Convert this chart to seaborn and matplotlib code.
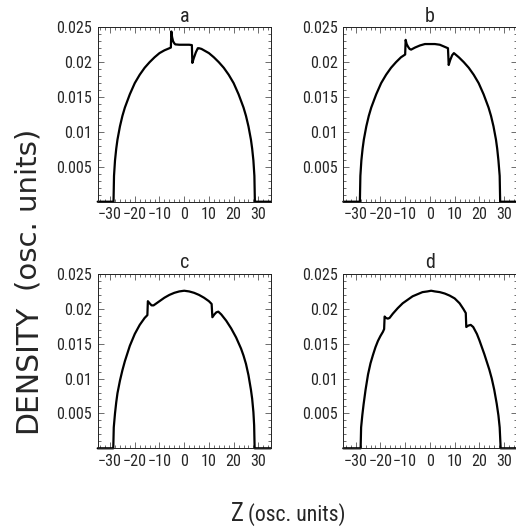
import numpy as np
import pandas as pd
import matplotlib
matplotlib.use("Agg")
import matplotlib.pyplot as plt
import seaborn as sns
from matplotlib import font_manager
from matplotlib.font_manager import FontProperties
from matplotlib.ticker import MultipleLocator, FixedLocator

# Density profiles along the trap axis (osc. units) for four cases a-d
z_a = [-35, -28.6, -28.4, -28.0, -27.5, -27.0, -26.0, -25.0, -24.0, -22.0,
       -20.0, -18.0, -16.0, -14.0, -12.0, -10.0, -8.0, -6.0,
       -5.4, -5.2, -4.9, -4.5, -4.0, -3.6,
       -2.0, 0.0, 2.0, 3.1,
       3.3, 3.9, 4.7, 5.5,
       6.0, 7.0, 8.0, 10.0, 12.0, 14.0, 16.0, 18.0, 20.0, 22.0, 24.0, 25.0,
       26.0, 27.0, 27.5, 28.0, 28.4, 28.6, 35]
n_a = [0, 0, 0.0037, 0.0059, 0.0076, 0.0089, 0.0108, 0.0123, 0.0135, 0.0154,
       0.0170, 0.0182, 0.0192, 0.0200, 0.0207, 0.0213, 0.0217, 0.0220,
       0.0221, 0.0244, 0.0236, 0.0230, 0.0227, 0.02255,
       0.0225, 0.0225, 0.0225, 0.02245,
       0.0199, 0.0206, 0.0214, 0.0220,
       0.0220, 0.0219, 0.0217, 0.0213, 0.0207, 0.0200, 0.0192, 0.0182, 0.0170,
       0.0154, 0.0135, 0.0123, 0.0108, 0.0089, 0.0076, 0.0059, 0.0037, 0, 0]

z_b = [-35, -28.3, -28.1, -27.7, -27.2, -26.7, -25.7, -24.7, -23.7, -21.7,
       -19.7, -17.7, -15.7, -13.7, -11.7, -10.0,
       -9.8, -9.4, -8.8, -8.2, -7.6,
       -6.0, -4.0, -2.0, 0.0, 2.0, 4.0, 6.0,
       7.3, 7.6, 8.2, 9.0, 9.7,
       11.7, 13.7, 15.7, 17.7, 19.7, 21.7, 23.7, 24.7, 25.7, 26.7, 27.2, 27.7,
       28.2, 28.4, 35]
n_b = [0, 0, 0.0037, 0.0059, 0.0076, 0.0089, 0.0108, 0.0123, 0.0135, 0.0154,
       0.0170, 0.0182, 0.0192, 0.0200, 0.0207, 0.0211,
       0.0232, 0.0226, 0.0222, 0.0219, 0.0218,
       0.0221, 0.0224, 0.0226, 0.0226, 0.0226, 0.0225, 0.0222,
       0.0220, 0.0196, 0.0203, 0.0210, 0.0213,
       0.0207, 0.0200, 0.0192, 0.0182, 0.0170, 0.0154, 0.0135, 0.0123, 0.0108,
       0.0089, 0.0076, 0.0059, 0.0037, 0, 0]

z_c = [-35, -28.7, -28.5, -28.0, -27.5, -27.0, -26.0, -25.0, -24.0, -22.0,
       -20.0, -18.0, -16.0, -14.9, -14.7, -14.0, -13.2, -12.4,
       -10.0, -8.0, -6.0, -4.0, -2.0, 0.0, 2.0, 4.0, 6.0, 8.0, 10.0,
       11.1, 11.4, 12.2, 13.0, 13.8,
       15.0, 17.0, 19.0, 21.0, 23.0, 24.0, 25.0, 26.0, 27.0, 27.5, 28.0, 28.3,
       28.5, 35]
n_c = [0, 0, 0.0030, 0.0050, 0.0066, 0.0079, 0.0097, 0.0112, 0.0125, 0.0147,
       0.0164, 0.0177, 0.0187, 0.0191, 0.0211, 0.0208, 0.0205, 0.0205,
       0.0211, 0.0216, 0.0220, 0.0223, 0.0225, 0.0226, 0.0225, 0.0223, 0.0220,
       0.0216, 0.0211,
       0.0207, 0.0188, 0.0192, 0.0195, 0.0196,
       0.0192, 0.0183, 0.0172, 0.0159, 0.0143, 0.0133, 0.0121, 0.0105, 0.0084,
       0.0071, 0.0052, 0.0033, 0, 0]

z_d = [-35, -28.0, -27.8, -27.3, -26.8, -26.0, -25.0, -24.0, -23.0, -22.0,
       -21.0, -20.0, -19.0, -18.5, -18.3, -17.8, -17.0, -16.3,
       -15.0, -13.0, -11.0, -9.0, -7.0, -5.0, -3.0, -1.0, 0.5,
       2.0, 4.0, 6.0, 8.0, 10.0, 12.0, 13.5, 14.5,
       14.7, 15.5, 16.5, 17.5, 19.0, 20.0, 21.0, 22.0, 23.0, 24.0, 25.0, 26.0,
       27.0, 27.7, 28.2, 28.6, 35]
n_d = [0, 0, 0.0030, 0.0048, 0.0063, 0.0084, 0.0106, 0.0122, 0.0134, 0.0145,
       0.0154, 0.0161, 0.0167, 0.0171, 0.0189, 0.0187, 0.0186, 0.0187,
       0.0193, 0.0201, 0.0208, 0.0213, 0.0218, 0.0221, 0.0224, 0.0225, 0.0226,
       0.0225, 0.0224, 0.0222, 0.0219, 0.0215, 0.0208, 0.0200, 0.0194,
       0.0174, 0.0176, 0.0177, 0.0174, 0.0164, 0.0155, 0.0145, 0.0135, 0.0124,
       0.0113, 0.0100, 0.0084, 0.0064, 0.0047, 0.0030, 0, 0]

panel_labels = ["a", "b", "c", "d"]
x_ticks = [-30, -20, -10, 0, 10, 20, 30]
x_ticklabels = ["\u221230", "\u221220", "\u221210", "0", "10", "20", "30"]
y_ticks = [0.005, 0.01, 0.015, 0.02, 0.025]
y_ticklabels = ["0.005", "0.01", "0.015", "0.02", "0.025"]

sns.set_theme(style="white")
plt.rcParams["font.family"] = ["Liberation Sans", "DejaVu Sans"]


def narrow_font():
    """Return a regular-weight condensed sans font file if one is installed."""
    order = ["liberation sans narrow", "roboto condensed", "noto sans",
             "open sans", "dejavu sans", "lato", "inter"]
    found = []
    for f in font_manager.fontManager.ttflist:
        name = f.name.lower()
        narrowish = ("narrow" in name or "condensed" in name
                     or "condensed" in str(f.stretch).lower()
                     or "condensed" in f.fname.lower().replace("semicondensed", "")
                     and "semi" not in f.fname.lower())
        if not narrowish:
            continue
        if f.style != "normal" or f.weight not in (400, "normal", "regular"):
            continue
        low = f.fname.lower()
        if any(k in low for k in ("bold", "light", "medium", "thin", "black",
                                  "italic", "semi", "extra", "ultra")):
            continue
        rank = next((i for i, o in enumerate(order) if name.startswith(o)), 99)
        found.append((rank, f.fname))
    if found:
        found.sort()
        return FontProperties(fname=found[0][1])
    return FontProperties(family="Liberation Sans")


tick_fp = narrow_font()
wide_fp = FontProperties(family="DejaVu Sans")

W, H = 516, 527
fig = plt.figure(figsize=(W / 100, H / 100), dpi=100)
renderer = fig.canvas.get_renderer()


def fitted(fp, text, target_px, key="width", base=10.0):
    t = fig.text(0, 0, text, fontproperties=fp, fontsize=base)
    bb = t.get_window_extent(renderer)
    t.remove()
    cur = bb.width if key == "width" else bb.height
    return base * target_px / cur


tick_fs = min(fitted(tick_fp, "30", 15.8), 13.0)
title_fs = tick_fs * 1.25

# axes boxes in pixels: (left, top, right, bottom)
boxes = [(97.7, 27.3, 270.7, 201.7), (343.3, 27.3, 516.5, 201.7),
         (97.7, 274.0, 270.7, 448.3), (343.3, 274.0, 516.5, 448.3)]
profiles = [(z_a, n_a), (z_b, n_b), (z_c, n_c), (z_d, n_d)]

for (l, t, r, b), (zz, nn), lab in zip(boxes, profiles, panel_labels):
    ax = fig.add_axes([l / W, 1 - b / H, (r - l) / W, (b - t) / H])
    df = pd.DataFrame({"z": zz, "n": nn})
    sns.lineplot(data=df, x="z", y="n", ax=ax, color="black", lw=1.6,
                 sort=False, estimator=None, clip_on=False)
    ax.set_xlim(-35, 35)
    ax.set_ylim(0, 0.025)
    ax.set_xlabel("")
    ax.set_ylabel("")
    ax.xaxis.set_major_locator(FixedLocator(x_ticks))
    ax.set_xticklabels(x_ticklabels, fontproperties=tick_fp, fontsize=tick_fs)
    ax.xaxis.set_minor_locator(MultipleLocator(2))
    ax.yaxis.set_major_locator(FixedLocator(y_ticks))
    ax.set_yticklabels(y_ticklabels, fontproperties=tick_fp, fontsize=tick_fs)
    ax.yaxis.set_minor_locator(MultipleLocator(0.001))
    ax.tick_params(which="both", direction="in", top=True, right=True,
                   bottom=True, left=True, color="#333333", width=0.5)
    ax.tick_params(which="major", length=4, pad=4)
    ax.tick_params(which="minor", length=2)
    for s in ax.spines.values():
        s.set_color("#222222")
        s.set_linewidth(0.7)
    ax.set_title(lab, fontproperties=tick_fp, fontsize=title_fs, pad=4)

# Vertical axis label: a large word followed by a smaller unit note
t1 = fig.text(28 / W, 1 - 433 / H, "DENSITY", rotation=90, fontproperties=wide_fp,
              fontsize=21.5, ha="center", va="bottom")
bb = t1.get_window_extent(renderer)
fig.text(29 / W, (bb.y1 + 14) / H, "(osc. units)", rotation=90,
         fontproperties=wide_fp, fontsize=21, ha="center", va="bottom")

# Horizontal axis label
z_fs = fitted(tick_fp, "Z", 13.0)
u_fs = fitted(tick_fp, "(osc. units)", 97.0)
t2 = fig.text(243.5 / W, 1 - 521 / H, "Z", fontproperties=tick_fp, fontsize=z_fs,
              ha="right", va="baseline")
bb2 = t2.get_window_extent(renderer)
fig.text((bb2.x1 + 5) / W, 1 - 521 / H, "(osc. units)", fontproperties=tick_fp,
         fontsize=u_fs, ha="left", va="baseline")

fig.savefig("out.png", dpi=100)
